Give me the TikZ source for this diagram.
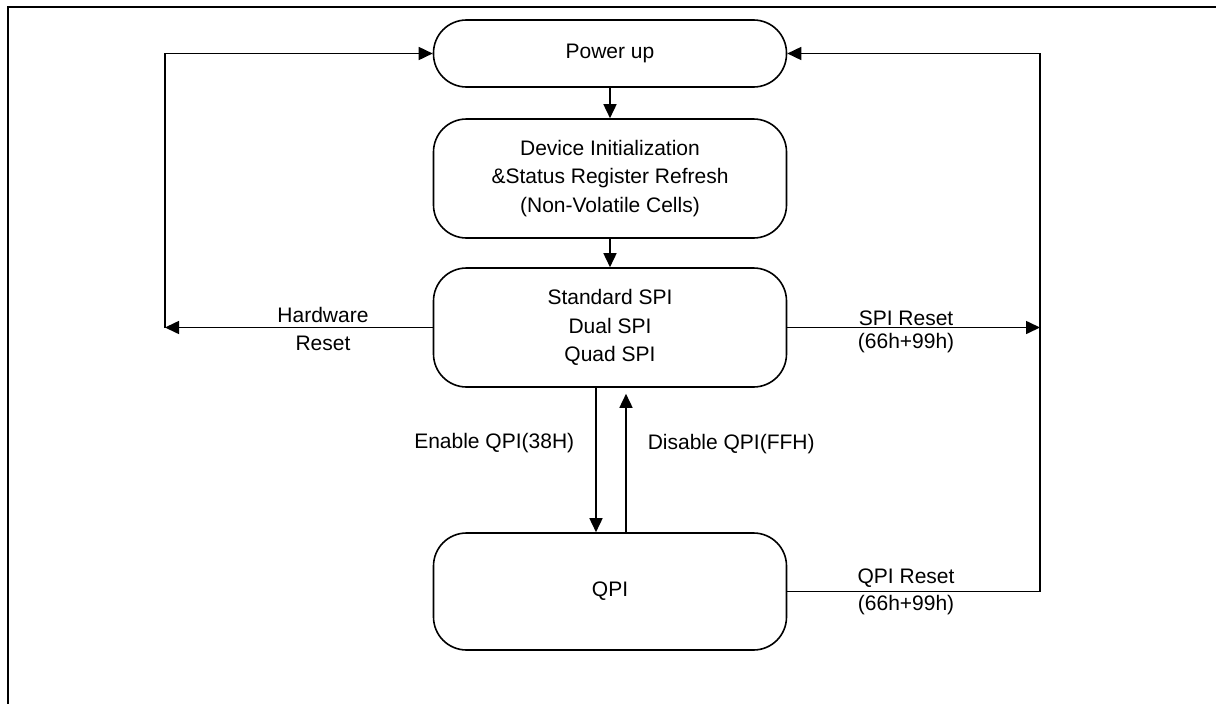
\documentclass[tikz,border=0pt]{standalone}
\usepackage{fontspec}
\setmainfont{Liberation Sans}
\usetikzlibrary{arrows.meta}

\begin{document}
\begin{tikzpicture}[x=1pt,y=-1pt]

	% Styles
	\tikzstyle{state} = [draw,rounded corners=33pt,line width=1.6pt,minimum width=353pt,align=center,font=\fontsize{21}{28.5}\selectfont]
	\tikzstyle{conn} = [line width=1.6pt,-{Triangle[length=14pt,width=13pt]}]
	\tikzstyle{linelabel} = [inner sep=1pt,font=\fontsize{21}{28.5}\selectfont]

	% Rahmen
	\useasboundingbox (0,0) rectangle (1216,704);
	\draw[line width=2.2pt] (8,704) -- (8,7) -- (1216,7);

	% Zustaende
	\node at (610,53.5) [state,minimum height=67pt] (pwr) {Power up};
	\node at (610,178.5) [state,minimum height=119pt] (init) {Device Initialization\\\&Status Register Refresh\\(Non-Volatile Cells)};
	\node at (610,327.5) [state,minimum height=119pt] (spi) {Standard SPI\\Dual SPI\\Quad SPI};
	\node at (610,591.5) [state,minimum height=117pt] (qpi) {QPI};

	% Eckpunkte
	\coordinate (hwc) at (165,327.5);
	\coordinate (spic) at (1040,327.5);
	\coordinate (qpic) at (1040,591.5);

	% Ablauf
	\draw[conn] (pwr) -- (init);
	\draw[conn] (init) -- (spi);
	\draw[conn] ([xshift=-14pt]spi.south) -- node [linelabel,pos=0.38,left=20pt] {Enable QPI(38H)} ([xshift=-14pt]qpi.north);
	\draw[conn] ([xshift=16pt]qpi.north) -- node [linelabel,pos=0.64,right=20pt] {Disable QPI(FFH)} ([xshift=16pt,yshift=-6pt]spi.south);

	% Resets
	\draw[conn] (spi.west) -- node [linelabel,pos=0.41,above=3pt] {Hardware} node [linelabel,pos=0.41,below=7pt] {Reset} (hwc);
	\draw[conn] (hwc) |- (pwr.west);
	\draw[conn] (spi.east) -- node [linelabel,pos=0.47,above=0pt] {SPI Reset} node [linelabel,pos=0.47,below=4pt] {(66h+99h)} (spic);
	\draw[conn] (qpi.east) -- node [linelabel,pos=0.47,above=2pt] {QPI Reset} node [linelabel,pos=0.47,below=2pt] {(66h+99h)} (qpic) |- (pwr.east);

\end{tikzpicture}
\end{document}
